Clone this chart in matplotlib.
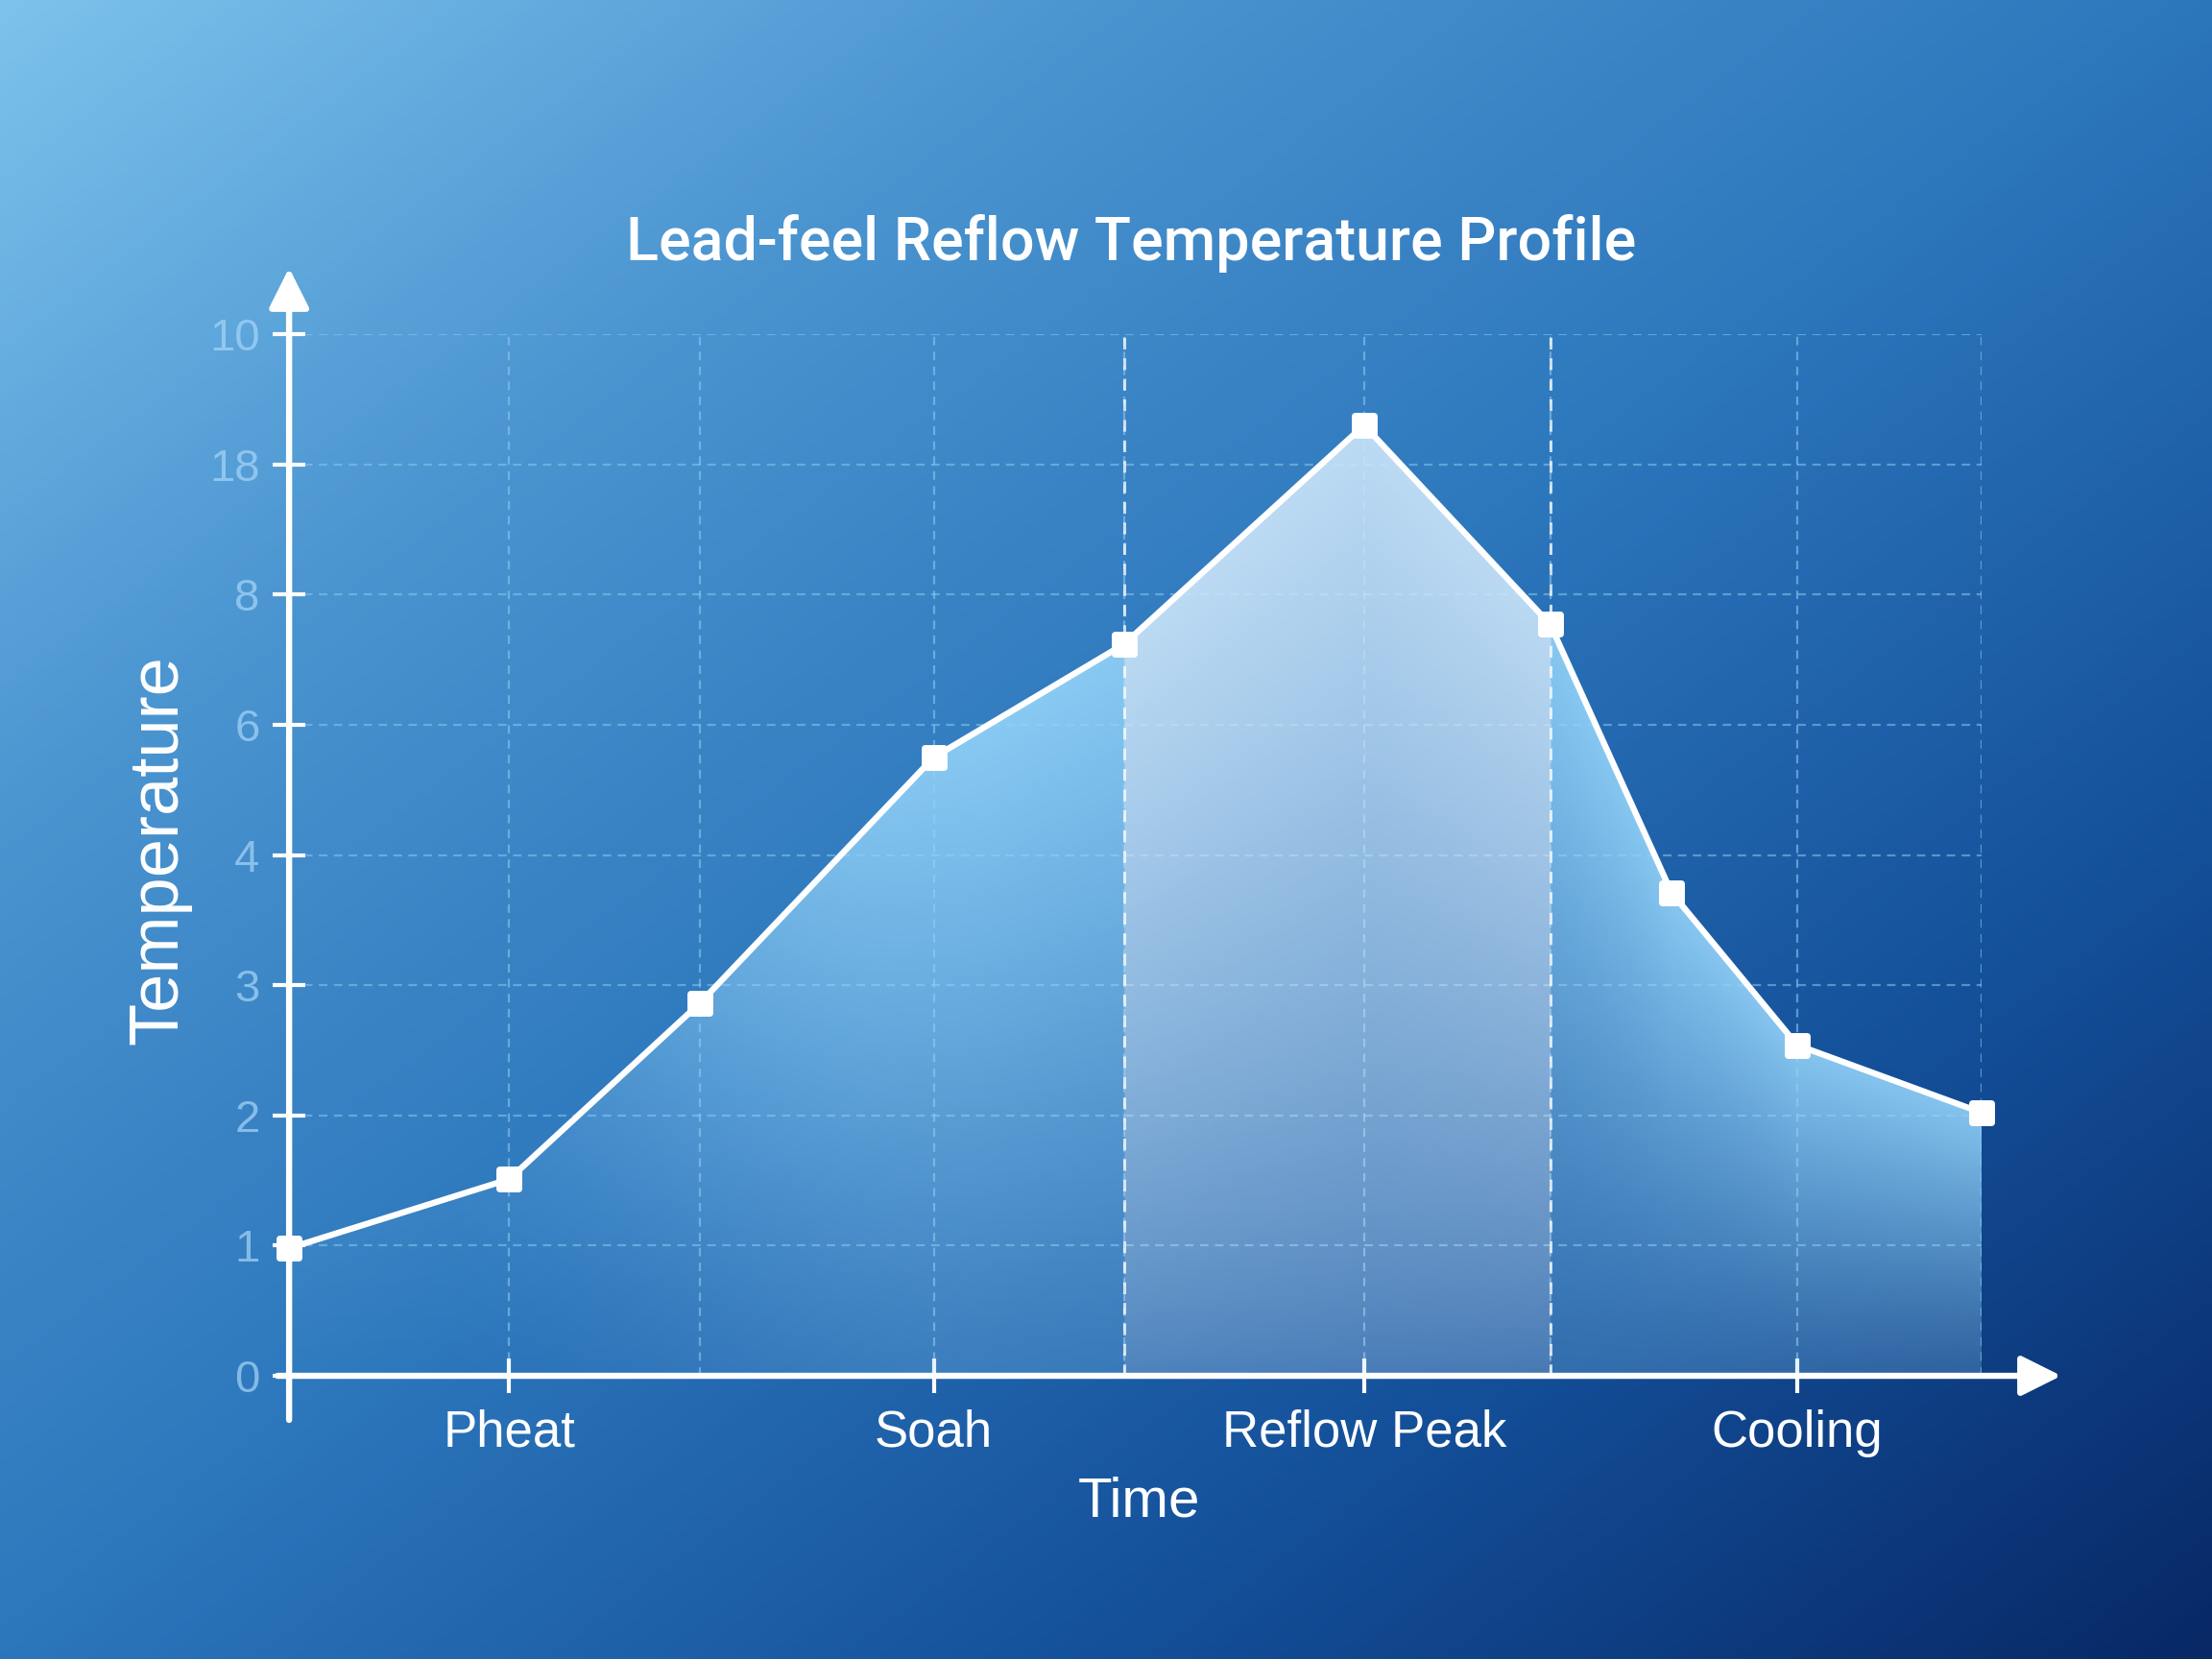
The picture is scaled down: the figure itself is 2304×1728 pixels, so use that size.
import numpy as np
import matplotlib
matplotlib.use("Agg")
import matplotlib.pyplot as plt
from matplotlib.colors import LinearSegmentedColormap
from matplotlib.patches import Polygon
from matplotlib.markers import MarkerStyle

# data
time = [0, 1.56, 2.91, 4.57, 5.92, 7.62, 8.94, 9.80, 10.69, 12.0]
temp = [0.98, 1.51, 2.86, 4.75, 5.62, 7.30, 5.77, 3.71, 2.54, 2.02]
ytick_pos = [0, 1, 2, 3, 4, 5, 6, 7, 8]
ytick_labels = ['0', '1', '2', '3', '4', '6', '8', '18', '10']
phase_ticks = [1.56, 4.57, 7.62, 10.69]
phase_labels = ['Pheat', 'Soah', 'Reflow Peak', 'Cooling']
grid_x = [1.56, 2.91, 4.57, 5.92, 7.62, 8.94, 10.69, 12.0]
reflow_zone = (5.92, 8.94)

fig = plt.figure(figsize=(11.52, 8.64), dpi=200)

# background gradient
bg = fig.add_axes([0, 0, 1, 1], zorder=-10)
gx, gy = np.meshgrid(np.linspace(0, 1, 400), np.linspace(0, 1, 300))
t = 0.5 * gx + 0.5 * gy
bg_cmap = LinearSegmentedColormap.from_list(
    'bg', [(0, '#7cc2ec'), (0.25, '#4a94d0'), (0.5, '#2c76bc'),
           (0.75, '#14509a'), (1.0, '#082866')])
bg.imshow(t, cmap=bg_cmap, aspect='auto', extent=[0, 1, 0, 1], origin='upper')
bg.axis('off')

ax = fig.add_axes([0.1307, 0.1707, 0.7653, 0.6279])
ax.patch.set_alpha(0)
ax.set_xlim(0, 12)
ax.set_ylim(0, 8)
for s in ax.spines.values():
    s.set_visible(False)

# grid
ax.hlines(ytick_pos[1:], 0, 12, colors='#8cc8f0', linestyles=(0, (4, 3)), lw=0.8, alpha=0.55, zorder=1)
ax.vlines(grid_x, 0, 8, colors='#8cc8f0', linestyles=(0, (4, 3)), lw=0.8, alpha=0.6, zorder=1)

# gradient fill under the curve
xs = np.linspace(0, 12, 600)
ys = np.linspace(0, 8, 400)
X, Y = np.meshgrid(xs, ys)
ytop = np.interp(X, time, temp)
r = np.clip(Y / ytop, 0, 1)
u = np.clip((X - 1) / 4, 0, 1)
w = 0.1 + 0.9 * u * u * (3 - 2 * u)
a = w * (0.25 + 0.65 * r ** 1.2)
rgb = np.zeros(X.shape + (4,))
rgb[..., 0] = 0.58
rgb[..., 1] = 0.83
rgb[..., 2] = 0.98
zone = (X >= reflow_zone[0]) & (X <= reflow_zone[1])
rgb[zone, 0] = 0.80
rgb[zone, 1] = 0.90
rgb[zone, 2] = 0.98
a[zone] = 0.28 + 0.62 * r[zone] ** 0.8
rgb[..., 3] = a
poly = Polygon(list(zip(time, temp)) + [(12, 0), (0, 0)], closed=True,
               facecolor='none', edgecolor='none', transform=ax.transData)
ax.add_patch(poly)
im = ax.imshow(rgb, extent=[0, 12, 0, 8], origin='lower', aspect='auto', zorder=2)
im.set_clip_path(poly)

# reflow zone boundaries
ax.vlines(reflow_zone, 0, 8, colors='white', linestyles=(0, (4, 3)), lw=1.1, alpha=0.75, zorder=3)

ax.plot(time, temp, color='white', lw=2.3, marker=MarkerStyle('s', joinstyle='round'), ms=7,
        mec='white', mfc='white', mew=2.5, solid_joinstyle='round', zorder=5, clip_on=False)

# axes with arrows
ax.annotate('', xy=(0, 8.55), xytext=(0, -0.38), annotation_clip=False,
            arrowprops=dict(arrowstyle='-|>', color='white', lw=2.3, mutation_scale=32))
ax.annotate('', xy=(12.6, 0), xytext=(-0.12, 0), annotation_clip=False,
            arrowprops=dict(arrowstyle='-|>', color='white', lw=2.3, mutation_scale=32))

ax.set_yticks(ytick_pos)
ax.set_yticklabels(ytick_labels, color='#a8d6f8', alpha=0.7, fontsize=17, family='Liberation Sans')
ax.set_xticks(phase_ticks)
ax.set_xticklabels(phase_labels, color='white', fontsize=19, family='Liberation Sans')
ax.tick_params(axis='y', direction='inout', length=12, width=1.5, color='white', pad=5)
ax.tick_params(axis='x', direction='inout', length=13, width=1.5, color='white', pad=6)

fig.text(1186 / 2304, 1 - 1565 / 1728, 'Time', color='white', fontsize=21,
         family='Liberation Sans', ha='center', va='center')
fig.text(166 / 2304, 1 - 885 / 1728, 'Temperature', color='white', fontsize=26,
         family='Liberation Sans', rotation=90, ha='center', va='center')
fig.text(1178 / 2304, 1 - 253 / 1728, 'Lead-feel Reflow Temperature Profile', color='white',
         fontsize=22.6, family=['Roboto', 'Liberation Sans'], weight='medium',
         ha='center', va='center')

fig.savefig('out.png', dpi=200)
